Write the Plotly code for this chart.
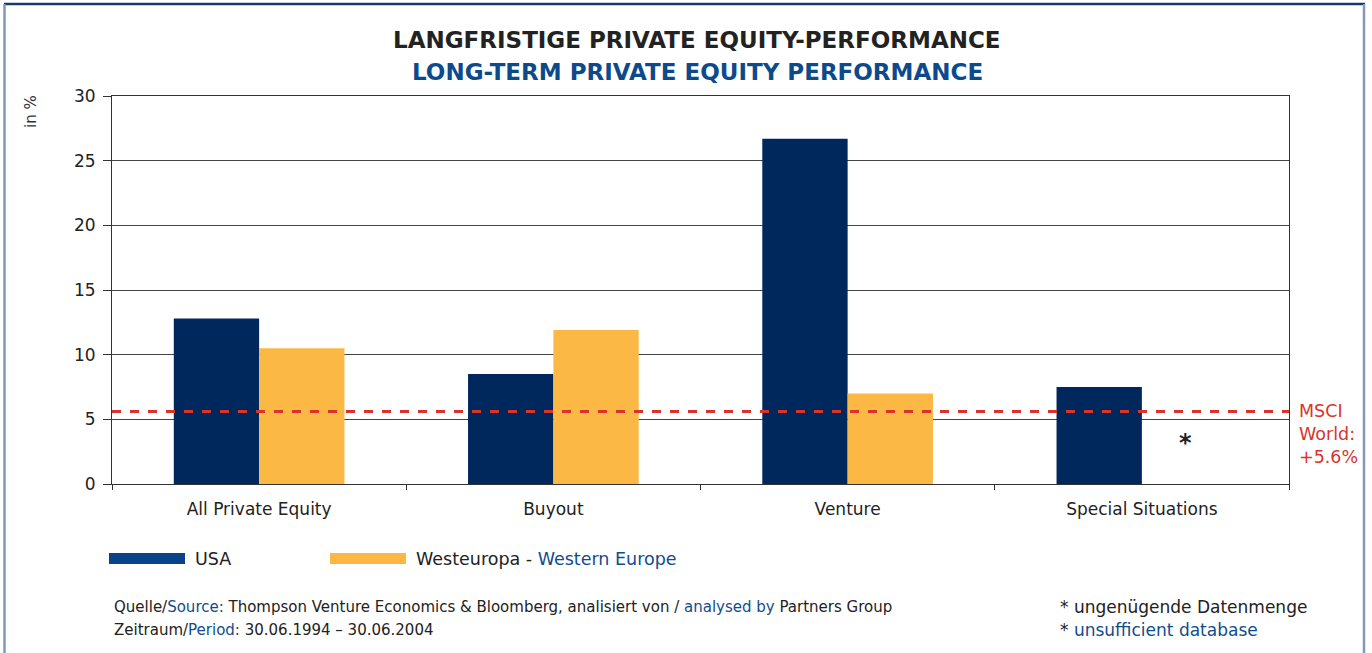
import plotly.graph_objects as go

categories = ["All Private Equity", "Buyout", "Venture", "Special Situations"]
usa = [12.8, 8.5, 26.7, 7.5]
europe = [10.5, 11.9, 7.0, None]
msci_world = 5.6
y_ticks = [0, 5, 10, 15, 20, 25, 30]

NAVY = "#00285c"
ORANGE = "#fcb845"
BLUE_TXT = "#134c8c"
RED = "#d9342b"
FONT = "DejaVu Sans"

W, H = 1372, 653
L, R, T, B = 112, 1289, 96, 484
PW, PH = R - L, B - T


def px(x):
    return (x - L) / PW


def py(y):
    return (B - y) / PH


fig = go.Figure()
fig.add_trace(go.Bar(x=categories, y=usa, name="USA", marker=dict(color=NAVY, line=dict(width=0))))
fig.add_trace(go.Bar(x=categories, y=europe, name="Westeuropa - Western Europe",
                     marker=dict(color=ORANGE, line=dict(width=0))))

shapes = []
shapes.append(dict(type="line", xref="paper", yref="y", x0=0, x1=1, y0=msci_world, y1=msci_world,
                   line=dict(color=RED, width=3, dash="dash"), layer="above"))
shapes.append(dict(type="line", xref="paper", yref="paper", x0=px(4), x1=px(1365), y0=py(4), y1=py(4),
                   line=dict(color="#15396b", width=2.5)))
shapes.append(dict(type="line", xref="paper", yref="paper", x0=px(4.5), x1=px(4.5), y0=py(4), y1=py(660),
                   line=dict(color="#8297bb", width=2.5)))
shapes.append(dict(type="line", xref="paper", yref="paper", x0=px(1364), x1=px(1364), y0=py(4), y1=py(660),
                   line=dict(color="#8297bb", width=2.5)))
shapes.append(dict(type="rect", xref="paper", yref="paper", x0=px(109), x1=px(185), y0=py(553), y1=py(564),
                   fillcolor="#0a428a", line=dict(width=0)))
shapes.append(dict(type="rect", xref="paper", yref="paper", x0=px(330), x1=px(406), y0=py(553), y1=py(564),
                   fillcolor=ORANGE, line=dict(width=0)))

annotations = [
    dict(text="<b>LANGFRISTIGE PRIVATE EQUITY-PERFORMANCE</b>", xref="paper", yref="paper",
         x=px(697), y=py(40), xanchor="center", yanchor="middle", showarrow=False,
         font=dict(family=FONT, size=23, color="#222222")),
    dict(text="<b>LONG-TERM PRIVATE EQUITY PERFORMANCE</b>", xref="paper", yref="paper",
         x=px(697), y=py(72), xanchor="center", yanchor="middle", showarrow=False,
         font=dict(family=FONT, size=23, color="#0d4a8c")),
    dict(text="in %", xref="paper", yref="paper", x=px(31), y=py(112), textangle=-90,
         xanchor="center", yanchor="middle", showarrow=False,
         font=dict(family=FONT, size=15, color="#333333")),
    dict(text="MSCI<br>World:<br>+5.6%", xref="paper", yref="paper", x=px(1297), y=py(434),
         xanchor="left", yanchor="middle", align="left", showarrow=False,
         font=dict(family=FONT, size=17.5, color=RED)),
    dict(text="<b>*</b>", xref="x", yref="y", x=categories[3], xshift=44, y=3.2,
         xanchor="center", yanchor="middle", showarrow=False,
         font=dict(family=FONT, size=24, color="#222222")),
    dict(text="USA", xref="paper", yref="paper", x=px(193), y=py(559), xanchor="left", yanchor="middle",
         showarrow=False, font=dict(family=FONT, size=17.5, color="#222222")),
    dict(text="Westeuropa - <span style='color:%s'>Western Europe</span>" % BLUE_TXT, xref="paper", yref="paper",
         x=px(414), y=py(559), xanchor="left", yanchor="middle",
         showarrow=False, font=dict(family=FONT, size=17.5, color="#222222")),
    dict(text="Quelle/<span style='color:%s'>Source:</span> Thompson Venture Economics &amp; Bloomberg, analisiert von / "
              "<span style='color:%s'>analysed by</span> Partners Group" % (BLUE_TXT, BLUE_TXT),
         xref="paper", yref="paper", x=px(112), y=py(607), xanchor="left", yanchor="middle",
         showarrow=False, font=dict(family=FONT, size=15, color="#222222")),
    dict(text="Zeitraum/<span style='color:%s'>Period:</span> 30.06.1994 – 30.06.2004" % BLUE_TXT,
         xref="paper", yref="paper", x=px(112), y=py(630), xanchor="left", yanchor="middle",
         showarrow=False, font=dict(family=FONT, size=15, color="#222222")),
    dict(text="* ungenügende Datenmenge", xref="paper", yref="paper", x=px(1058), y=py(607),
         xanchor="left", yanchor="middle", showarrow=False, font=dict(family=FONT, size=17, color="#222222")),
    dict(text="* <span style='color:%s'>unsufficient database</span>" % BLUE_TXT, xref="paper", yref="paper",
         x=px(1058), y=py(630), xanchor="left", yanchor="middle", showarrow=False,
         font=dict(family=FONT, size=17, color="#222222")),
]

fig.update_layout(
    width=W, height=H,
    margin=dict(l=L, r=W - R, t=T, b=H - B, pad=0),
    paper_bgcolor="white", plot_bgcolor="white",
    barmode="group", bargap=0.42, bargroupgap=0,
    showlegend=False,
    font=dict(family=FONT, size=17, color="#222222"),
    shapes=shapes, annotations=annotations,
)
fig.update_xaxes(
    type="category", tickson="boundaries", ticks="outside", ticklen=5, tickcolor="#333333",
    showline=True, linecolor="#333333", linewidth=1, mirror=True, ticklabelstandoff=10,
    showgrid=False, tickfont=dict(family=FONT, size=17, color="#222222"),
)
fig.update_yaxes(
    range=[0, 30], tickvals=y_ticks, ticks="outside", ticklen=8, tickcolor="#333333",
    showline=True, linecolor="#333333", linewidth=1, mirror=True, ticklabelstandoff=4,
    showgrid=True, gridcolor="#444444", gridwidth=1, zeroline=False,
    tickfont=dict(family=FONT, size=17, color="#222222"),
)

fig.write_html("out.html", config={"displayModeBar": False},
               post_script="document.body.style.margin='0';")
